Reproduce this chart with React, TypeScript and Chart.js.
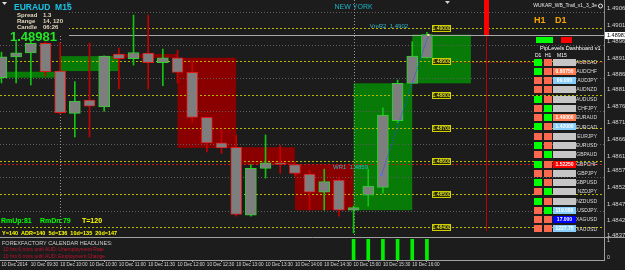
import React, { useEffect, useRef } from "react";
import { Chart, registerables } from "chart.js";

Chart.register(...registerables);

const FONT = "'Liberation Sans', Arial, Helvetica, sans-serif";
const NARROW = "'Liberation Sans Narrow', 'Arial Narrow', 'Liberation Sans', sans-serif";
const BG = "#1c1c1c";

// ---------------- data ----------------
const barTimes = ["09:00","09:15","09:30","09:45","10:00","10:15","10:30","10:45","11:00","11:15","11:30","11:45","12:00","12:15","12:30","12:45","13:00","13:15","13:30","13:45","14:00","14:15","14:30","14:45","15:00","15:15","15:30","15:45","16:00","16:15"];
const opens = [1.48851,1.48914,1.48926,1.48955,1.48871,1.48743,1.48783,1.48763,1.48922,1.48908,1.48925,1.48896,1.48911,1.48867,1.48731,1.48654,1.48641,1.48436,1.48577,1.48594,1.48589,1.4856,1.48505,1.48542,1.48451,1.48496,1.4852,1.48721,1.48834,1.48911];
const highs = [1.48928,1.4896,1.48965,1.48959,1.48956,1.48839,1.48956,1.48917,1.4894,1.4904,1.4904,1.48937,1.48934,1.48901,1.48732,1.48696,1.48678,1.48589,1.48678,1.48647,1.48596,1.48572,1.48575,1.48551,1.48463,1.48575,1.4876,1.48844,1.4896,1.48988];
const lows = [1.48835,1.48835,1.48829,1.48856,1.48741,1.48672,1.48672,1.4875,1.48817,1.48889,1.48817,1.48827,1.48835,1.48715,1.48627,1.48622,1.48433,1.48433,1.48548,1.48562,1.48554,1.48451,1.48451,1.48433,1.48382,1.48463,1.48502,1.48715,1.48834,1.4891];
const closes = [1.48914,1.48926,1.48955,1.48869,1.48745,1.4878,1.48765,1.48916,1.48908,1.48927,1.48896,1.48911,1.48867,1.48731,1.48654,1.48639,1.48438,1.48577,1.48594,1.48589,1.48562,1.48505,1.48537,1.48451,1.48459,1.48524,1.48738,1.48834,1.48916,1.48981];

const currentPrice = 1.48981;
const priceTicks = [1.4906,1.4901,1.4896,1.4891,1.4886,1.48815,1.48765,1.48715,1.48665,1.48615,1.4857,1.4852,1.4847,1.4842,1.48375];
const gridLevels = [1.4905,1.4895,1.4885,1.4875,1.4865,1.4855,1.4845];
const pivotLevels = [1.49,1.489,1.488,1.487,1.486,1.485,1.484];
const wr1Level = 1.4859;
const vmr2Level = 1.4902;
const dayOpenLevel = 1.48899;
const trendBars = [25.9, 29.1];
const trendPrices = [1.48557, 1.4898];
const londonBar = 4;
const nySessionBar = 24;
const marketLineBar = 33;
const histBars = [24,25,26,27,28,29];
const histValues = [1,1,1,1,1,1];
const timeTickBars = [0,2,4,6,8,10,12,14,16,18,20,22,24,26,28];
const timeTickLabels = ["10 Dec 2014","10 Dec 09:30","10 Dec 10:00","10 Dec 10:30","10 Dec 11:00","10 Dec 11:30","10 Dec 12:00","10 Dec 12:30","10 Dec 13:00","10 Dec 13:30","10 Dec 14:00","10 Dec 14:30","10 Dec 15:00","10 Dec 15:30","10 Dec 16:00"];
const xMin = -0.1;
const xMax = 41.07;
const yMin = 1.4837;
const yMax = 1.490855;

const infoRows = [["Spread","1.3"],["Range","14, 120"],["Candle","06:26"]];
const dashPairs = ["AUDCAD","AUDCHF","AUDJPY","AUDNZD","AUDUSD","CHFJPY","EURAUD","EURCAD","EURJPY","EURUSD","GBPAUD","GBPCHF","GBPJPY","GBPUSD","NZDJPY","NZDUSD","USDJPY","XAGUSD","XAUUSD"];
const dashD1 = ["up","up","dn","dn","up","dn","dn","up","dn","up","dn","up","dn","up","dn","up","dn","dn","dn"];
const dashH1 = ["dn","dn","dn","dn","dn","up","up","dn","dn","dn","up","dn","dn","dn","up","dn","up","dn","dn"];
const dashM15State = ["none","sell","buy","none","none","none","sell","buy","none","none","none","hit","none","none","none","none","buy","alert","buy"];
const dashM15Value = ["","0.80750","99.000","","","","1.49000","1.42000","","","","1.52250","","","","","119.000","17.000","1227.75"];
const ffLines = ["10 hrs 6 mins until AUD: Unemployment Rate","10 hrs 6 mins until AUD: Employment Change"];

// H1 blocks built from the M15 bars
const hourly: { x0: number; x1: number; o: number; c: number }[] = [];
for (let s = 0; s < opens.length; s += 4) {
  const e = Math.min(s + 3, opens.length - 1);
  hourly.push({ x0: s, x1: s + 4, o: opens[s], c: closes[e] });
}

function txt(ctx: CanvasRenderingContext2D, s: string, x: number, y: number, color: string, size: number, bold = false, align: CanvasTextAlign = "left", family = FONT) {
  ctx.font = `${bold ? "bold " : ""}${size}px ${family}`;
  ctx.fillStyle = color;
  ctx.textAlign = align;
  ctx.textBaseline = "middle";
  ctx.fillText(s, x, y);
}

const mainDecor = {
  id: "mainDecor",
  beforeDraw(chart: any) {
    const { ctx, width, height } = chart;
    ctx.save();
    ctx.fillStyle = BG;
    ctx.fillRect(0, 0, width, height);
    ctx.restore();
  },
  beforeDatasetsDraw(chart: any) {
    const { ctx, chartArea: a } = chart;
    const px = (v: number) => chart.scales.x.getPixelForValue(v);
    const py = (v: number) => chart.scales.y.getPixelForValue(v);
    ctx.save();
    ctx.beginPath();
    ctx.rect(a.left, a.top, a.right - a.left, a.bottom - a.top);
    ctx.clip();
    for (const z of hourly) {
      const x0 = px(z.x0), x1 = px(z.x1);
      const y0 = py(Math.max(z.o, z.c)), y1 = py(Math.min(z.o, z.c));
      ctx.fillStyle = z.c >= z.o ? "#087a08" : "#8a0000";
      ctx.fillRect(x0, y0, x1 - x0, y1 - y0);
    }
    ctx.lineWidth = 1;
    const hline = (v: number, x0: number, x1: number, color: string, dash: number[]) => {
      const y = Math.round(py(v)) + 0.5;
      ctx.strokeStyle = color;
      ctx.setLineDash(dash);
      ctx.beginPath();
      ctx.moveTo(x0, y);
      ctx.lineTo(x1, y);
      ctx.stroke();
    };
    const vline = (xv: number, y0: number, y1: number, color: string, dash: number[]) => {
      const x = Math.round(xv) + 0.5;
      ctx.strokeStyle = color;
      ctx.setLineDash(dash);
      ctx.beginPath();
      ctx.moveTo(x, y0);
      ctx.lineTo(x, y1);
      ctx.stroke();
    };
    gridLevels.forEach((v) => hline(v, a.left, a.right, "#5e5e5e", [1, 2]));
    pivotLevels.forEach((v) => hline(v, a.left, a.right, "#b9b900", [2, 2]));
    hline(wr1Level, a.left, a.right, "#c81818", [2, 2]);
    hline(dayOpenLevel, px(30.7), a.right, "#c81818", [1, 2]);
    vline(px(londonBar), a.top, a.bottom, "#9a9a9a", [1, 2]);
    vline(px(nySessionBar), a.top, a.bottom, "#9a9a9a", [1, 2]);
    vline(px(marketLineBar), a.top, a.bottom - 6, "#c00000", []);
    ctx.fillStyle = "#ff0000";
    ctx.fillRect(Math.round(px(marketLineBar)) - 2, a.top, 5, py(currentPrice) + 1);
    hline(currentPrice, a.left, a.right, "#a8a8a8", []);
    ctx.restore();
  },
  afterDatasetsDraw(chart: any) {
    const { ctx } = chart;
    const px = (v: number) => chart.scales.x.getPixelForValue(v);
    const py = (v: number) => chart.scales.y.getPixelForValue(v);
    ctx.save();
    ctx.setLineDash([]);
    ctx.lineWidth = 1;
    // level boxes
    pivotLevels.forEach((v) => {
      const y = Math.round(py(v));
      const x0 = Math.round(px(29.35)), x1 = Math.round(px(30.64));
      ctx.fillStyle = "#2c2c00";
      ctx.fillRect(x0, y - 3, x1 - x0, 7);
      ctx.strokeStyle = "#d0d000";
      ctx.strokeRect(x0 + 0.5, y - 2.5, x1 - x0 - 1, 6);
      txt(ctx, v.toFixed(5), (x0 + x1) / 2, y + 0.5, "#ffff30", 5, false, "center");
    });
    txt(ctx, "VmR2  " + vmr2Level.toFixed(4), px(25.1), py(vmr2Level) + 4.5, "#36b4c8", 6);
    txt(ctx, "WR1  " + wr1Level.toFixed(4), px(22.6), py(wr1Level) + 3.5, "#36b4c8", 6);
    txt(ctx, "NEW YORK", px(nySessionBar), 7.5, "#1ab4c8", 7, false, "center");
    // chart shift marker
    ctx.fillStyle = "#d0d0d0";
    ctx.beginPath();
    const sx = px(30.4);
    ctx.moveTo(sx - 2.5, 1); ctx.lineTo(sx + 2.5, 1); ctx.lineTo(sx, 4); ctx.closePath(); ctx.fill();

    // info panel
    ctx.fillStyle = BG;
    ctx.fillRect(0, 0, 69, 36);
    ctx.fillStyle = "#e0e0e0";
    ctx.beginPath(); ctx.moveTo(2, 2); ctx.lineTo(7, 2); ctx.lineTo(4.5, 5); ctx.closePath(); ctx.fill();
    txt(ctx, "EURAUD  M15", 14, 8, "#19c3e6", 8.5, true);
    txt(ctx, "fl", 67, 5, "#19c3e6", 5);
    infoRows.forEach((r, i) => {
      txt(ctx, r[0], 17, 15 + i * 6.2, "#e2d8bc", 6, true);
      txt(ctx, r[1], 43, 15 + i * 6.2, "#e2d8bc", 6, true);
    });
    txt(ctx, currentPrice.toFixed(5), 10, 37, "#22e622", 13, true);

    // bottom-left stats
    txt(ctx, "RmUp:81", 1, 221, "#00ff00", 7, true);
    txt(ctx, "RmDn:79", 40, 221, "#00ff00", 7, true);
    txt(ctx, "T=120", 82, 221, "#ffff00", 7, true);
    txt(ctx, "Y=140  ADR=140  5d=136  10d=135  20d=147", 2, 233, "#ffff00", 5.5, true);

    // dashboard
    txt(ctx, "WUKAR_WB_Trail_v1_3_3e", 597, 6, "#e8e8e8", 5, false, "right");
    ctx.strokeStyle = "#e8e8e8";
    ctx.beginPath(); ctx.arc(600.5, 6, 2, 0, Math.PI * 2); ctx.stroke();
    txt(ctx, "H1", 534, 21, "#f7a800", 9, true);
    txt(ctx, "D1", 555, 21, "#f7a800", 9, true);
    ctx.fillStyle = "#00ff00"; ctx.fillRect(536, 37, 17, 6);
    ctx.fillStyle = "#ff0000"; ctx.fillRect(561, 37, 11, 6);
    txt(ctx, "PipLevels Dashboard v1", 540, 48.5, "#ffffff", 5.6);
    txt(ctx, "D1", 535, 55.5, "#ffffff", 5);
    txt(ctx, "H1", 545, 55.5, "#ffffff", 5);
    txt(ctx, "M15", 557, 55.5, "#ffffff", 5);
    const stateCol: Record<string, string> = { up: "#00ff00", dn: "#fb6a4e", none: "#c6c6c6", sell: "#ff7a50", buy: "#87cefa", hit: "#ff0000", alert: "#0000ff" };
    dashPairs.forEach((p, r) => {
      const yc = 62.3 + r * 9.27;
      const top = Math.round(yc - 3.7);
      ctx.fillStyle = stateCol[dashD1[r]]; ctx.fillRect(534, top, 8, 7);
      ctx.fillStyle = stateCol[dashH1[r]]; ctx.fillRect(544, top, 8, 7);
      ctx.fillStyle = stateCol[dashM15State[r]]; ctx.fillRect(553, top, 23, 7);
      if (dashM15Value[r]) txt(ctx, dashM15Value[r], 564.5, top + 3.8, "#ffffff", 5, true, "center");
      txt(ctx, p, 597, yc, "#dcdcdc", 5, false, "right");
    });
    ctx.restore();
  },
  afterDraw(chart: any) {
    const { ctx } = chart;
    const y = Math.round(chart.scales.y.getPixelForValue(currentPrice));
    ctx.save();
    ctx.fillStyle = "#ffffff";
    ctx.fillRect(605, y - 3, 20, 7);
    txt(ctx, currentPrice.toFixed(5), 607, y + 0.5, "#000000", 5.5);
    ctx.restore();
  },
};

const subDecor = {
  id: "subDecor",
  beforeDraw(chart: any) {
    const { ctx, width, height } = chart;
    ctx.save();
    ctx.fillStyle = BG;
    ctx.fillRect(0, 0, width, height);
    ctx.restore();
  },
  afterDatasetsDraw(chart: any) {
    const { ctx, chartArea: a } = chart;
    const py = (v: number) => chart.scales.y.getPixelForValue(v);
    ctx.save();
    ctx.strokeStyle = "#a0a0a0";
    ctx.lineWidth = 1;
    ctx.beginPath();
    ctx.moveTo(0, 0.5); ctx.lineTo(625, 0.5);
    ctx.moveTo(0, a.bottom + 0.5); ctx.lineTo(a.right + 1, a.bottom + 0.5);
    ctx.moveTo(a.right + 0.5, 0); ctx.lineTo(a.right + 0.5, a.bottom + 1);
    ctx.stroke();
    txt(ctx, "FOREXFACTORY CALENDAR HEADLINES:", 2, 6.5, "#cfcfcf", 5.5);
    ffLines.forEach((l, i) => txt(ctx, l, 3, 13 + i * 6.7, "#c4102c", 5));
    txt(ctx, "1", 607, py(1) + 2, "#d8d8d8", 5);
    txt(ctx, "0", 607, py(0) - 2, "#d8d8d8", 5);
    ctx.restore();
  },
};

export default function App() {
  const mainRef = useRef<HTMLCanvasElement>(null);
  const subRef = useRef<HTMLCanvasElement>(null);

  useEffect(() => {
    document.body.style.margin = "0";
    document.body.style.background = BG;
    const bull = opens.map((o, i) => closes[i] >= o);
    const bodies = opens.map((o, i) => ({ x: i, y: [o, closes[i]] }));
    const wicks = opens.map((_, i) => ({ x: i, y: [lows[i], highs[i]] }));

    const main = new Chart(mainRef.current as HTMLCanvasElement, {
      type: "bar",
      data: {
        labels: barTimes,
        datasets: [
          {
            type: "line",
            data: trendBars.map((b, i) => ({ x: b, y: trendPrices[i] })),
            borderColor: "#2a4cff",
            borderWidth: 1,
            borderDash: [1, 1],
            pointRadius: 1.5,
            pointStyle: "rect",
            pointBackgroundColor: ["#5070ff", "#ffd8a0"],
            pointBorderWidth: 0,
            order: 0,
          } as any,
          {
            type: "bar",
            data: bodies,
            backgroundColor: "#7e7e7e",
            borderColor: bull.map((b) => (b ? "#2ed12e" : "#e01818")),
            borderWidth: 1,
            borderSkipped: false,
            barThickness: 11,
            grouped: false,
            order: 1,
          } as any,
          {
            type: "bar",
            data: wicks,
            backgroundColor: bull.map((b) => (b ? "#12c412" : "#c40000")),
            barThickness: 1,
            grouped: false,
            order: 2,
          } as any,
        ],
      },
      options: {
        responsive: false,
        animation: false,
        events: [],
        devicePixelRatio: 1,
        layout: { padding: 0, autoPadding: false },
        plugins: { legend: { display: false }, tooltip: { enabled: false } },
        scales: {
          x: { type: "linear", display: false, min: xMin, max: xMax, offset: false, grid: { display: false } },
          y: {
            type: "linear",
            position: "right",
            min: yMin,
            max: yMax,
            beginAtZero: false,
            grid: { display: false, drawTicks: false },
            border: { display: true, color: "#8c8c8c" },
            ticks: {
              autoSkip: false,
              padding: 3,
              color: "#d4d4d4",
              font: { size: 6, family: FONT },
              callback: (v: any) => Number(v).toFixed(5),
            },
            afterBuildTicks: (s: any) => {
              s.ticks = priceTicks.map((v) => ({ value: v }));
            },
            afterFit: (s: any) => {
              s.width = 21;
              s.paddingTop = 0;
              s.paddingBottom = 0;
            },
          },
        },
      } as any,
      plugins: [mainDecor],
    });

    const sub = new Chart(subRef.current as HTMLCanvasElement, {
      type: "bar",
      data: {
        datasets: [
          {
            data: histBars.map((b, i) => ({ x: b, y: histValues[i] })),
            backgroundColor: "#00f000",
            barThickness: 3,
            grouped: false,
          } as any,
        ],
      },
      options: {
        responsive: false,
        animation: false,
        events: [],
        devicePixelRatio: 1,
        layout: { padding: { top: 2, right: 21, left: 0, bottom: 0 }, autoPadding: false },
        plugins: { legend: { display: false }, tooltip: { enabled: false } },
        scales: {
          x: {
            type: "linear",
            min: xMin,
            max: xMax,
            offset: false,
            grid: { display: true, drawOnChartArea: false, drawTicks: true, tickLength: 2, color: "#b0b0b0" },
            border: { display: false },
            ticks: {
              autoSkip: false,
              maxRotation: 0,
              minRotation: 0,
              align: "start",
              padding: 0,
              color: "#d8d8d8",
              font: { size: 4.6, family: NARROW },
              callback: (_v: any, i: number) => timeTickLabels[i],
            },
            afterBuildTicks: (s: any) => {
              s.ticks = timeTickBars.map((v) => ({ value: v }));
            },
            afterFit: (s: any) => {
              s.height = 10;
              s.paddingLeft = 0;
              s.paddingRight = 0;
            },
          },
          y: { display: false, min: 0, max: 1 },
        },
      } as any,
      plugins: [subDecor],
    });

    return () => {
      main.destroy();
      sub.destroy();
    };
  }, []);

  return (
    <div style={{ width: 625, height: 270, background: BG }}>
      <canvas ref={mainRef} width={625} height={237} style={{ display: "block" }} />
      <canvas ref={subRef} width={625} height={33} style={{ display: "block" }} />
    </div>
  );
}
